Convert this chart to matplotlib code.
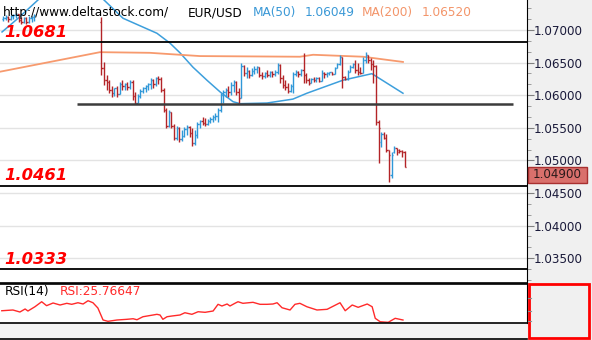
import numpy as np
import matplotlib
matplotlib.use("Agg")
import matplotlib.pyplot as plt
from matplotlib.transforms import blended_transform_factory
from matplotlib.lines import Line2D
from matplotlib.patches import Rectangle
from matplotlib.ticker import MultipleLocator, FormatStrFormatter

# --- bars visible at the far left (before price left the window) ---
early_open = [1.0717, 1.0718, 1.0720, 1.0717, 1.0721, 1.0723, 1.0725, 1.0715, 1.0712, 1.0718, 1.0712, 1.0718, 1.0720]
early_high = [1.0721, 1.0723, 1.0721, 1.0723, 1.0725, 1.0726, 1.0725, 1.0720, 1.0720, 1.0720, 1.0721, 1.0721, 1.0725]
early_low = [1.0714, 1.0715, 1.0712, 1.0715, 1.0717, 1.0718, 1.0712, 1.0709, 1.0711, 1.0709, 1.0711, 1.0712, 1.0714]
early_close = [1.0718, 1.0720, 1.0717, 1.0721, 1.0723, 1.0725, 1.0715, 1.0712, 1.0718, 1.0712, 1.0718, 1.0720, 1.0723]
early_start = -38

# --- main run of bars ---
opens = [1.0712, 1.0642, 1.0623, 1.0620, 1.0608, 1.0603, 1.0611, 1.0602, 1.0617, 1.0614,
         1.0617, 1.0613, 1.0620, 1.0599, 1.0588, 1.0599, 1.0606, 1.0611, 1.0614, 1.0617,
         1.0623, 1.0617, 1.0626, 1.0625, 1.0608, 1.0577, 1.0553, 1.0574, 1.0553, 1.0534,
         1.0550, 1.0533, 1.0537, 1.0548, 1.0551, 1.0542, 1.0527, 1.0539, 1.0556, 1.0560,
         1.0557, 1.0556, 1.0560, 1.0564, 1.0567, 1.0568, 1.0577, 1.0600, 1.0605, 1.0608,
         1.0605, 1.0616, 1.0620, 1.0605, 1.0596, 1.0645, 1.0634, 1.0637, 1.0631, 1.0637,
         1.0640, 1.0643, 1.0631, 1.0629, 1.0634, 1.0631, 1.0636, 1.0633, 1.0636, 1.0646,
         1.0626, 1.0616, 1.0613, 1.0606, 1.0614, 1.0633, 1.0636, 1.0633, 1.0639, 1.0631,
         1.0623, 1.0619, 1.0625, 1.0623, 1.0626, 1.0622, 1.0634, 1.0633, 1.0634, 1.0636,
         1.0633, 1.0642, 1.0648, 1.0659, 1.0628, 1.0625, 1.0636, 1.0643, 1.0648, 1.0639,
         1.0636, 1.0634, 1.0654, 1.0662, 1.0654, 1.0648, 1.0645, 1.0559, 1.0528, 1.0541,
         1.0534, 1.0516, 1.0478, 1.0513, 1.0519, 1.0516, 1.0514, 1.0513]
highs = [1.0720, 1.0651, 1.0631, 1.0623, 1.0614, 1.0611, 1.0614, 1.0620, 1.0623, 1.0619,
         1.0620, 1.0623, 1.0623, 1.0605, 1.0602, 1.0610, 1.0613, 1.0616, 1.0619, 1.0626,
         1.0625, 1.0628, 1.0629, 1.0628, 1.0611, 1.0580, 1.0577, 1.0574, 1.0556, 1.0553,
         1.0551, 1.0547, 1.0551, 1.0554, 1.0553, 1.0550, 1.0547, 1.0559, 1.0562, 1.0567,
         1.0565, 1.0563, 1.0567, 1.0570, 1.0573, 1.0580, 1.0603, 1.0608, 1.0611, 1.0614,
         1.0620, 1.0623, 1.0622, 1.0611, 1.0649, 1.0646, 1.0643, 1.0639, 1.0642, 1.0645,
         1.0645, 1.0643, 1.0636, 1.0636, 1.0639, 1.0637, 1.0637, 1.0639, 1.0649, 1.0648,
         1.0631, 1.0623, 1.0619, 1.0617, 1.0636, 1.0639, 1.0637, 1.0640, 1.0665, 1.0634,
         1.0626, 1.0626, 1.0628, 1.0628, 1.0628, 1.0639, 1.0636, 1.0636, 1.0636, 1.0636,
         1.0643, 1.0649, 1.0662, 1.0659, 1.0629, 1.0639, 1.0646, 1.0649, 1.0654, 1.0649,
         1.0643, 1.0659, 1.0666, 1.0662, 1.0657, 1.0654, 1.0646, 1.0562, 1.0544, 1.0544,
         1.0540, 1.0516, 1.0513, 1.0522, 1.0519, 1.0517, 1.0516, 1.0514]
lows = [1.0631, 1.0616, 1.0608, 1.0603, 1.0597, 1.0599, 1.0597, 1.0602, 1.0608, 1.0608,
        1.0608, 1.0610, 1.0593, 1.0587, 1.0588, 1.0596, 1.0603, 1.0605, 1.0608, 1.0609,
        1.0611, 1.0614, 1.0617, 1.0605, 1.0574, 1.0550, 1.0551, 1.0550, 1.0531, 1.0531,
        1.0528, 1.0530, 1.0536, 1.0539, 1.0536, 1.0522, 1.0524, 1.0534, 1.0550, 1.0554,
        1.0553, 1.0554, 1.0557, 1.0559, 1.0562, 1.0559, 1.0574, 1.0588, 1.0597, 1.0597,
        1.0600, 1.0605, 1.0600, 1.0588, 1.0596, 1.0629, 1.0626, 1.0626, 1.0629, 1.0633,
        1.0634, 1.0628, 1.0625, 1.0626, 1.0628, 1.0628, 1.0628, 1.0629, 1.0633, 1.0619,
        1.0611, 1.0608, 1.0603, 1.0605, 1.0603, 1.0629, 1.0628, 1.0629, 1.0619, 1.0619,
        1.0616, 1.0619, 1.0620, 1.0620, 1.0620, 1.0622, 1.0626, 1.0628, 1.0631, 1.0631,
        1.0633, 1.0642, 1.0646, 1.0611, 1.0623, 1.0623, 1.0636, 1.0642, 1.0634, 1.0631,
        1.0633, 1.0634, 1.0649, 1.0649, 1.0639, 1.0619, 1.0554, 1.0496, 1.0521, 1.0533,
        1.0513, 1.0467, 1.0473, 1.0511, 1.0508, 1.0511, 1.0505, 1.0490]
closes = [1.0642, 1.0623, 1.0620, 1.0608, 1.0603, 1.0611, 1.0602, 1.0617, 1.0614, 1.0617,
          1.0613, 1.0620, 1.0599, 1.0588, 1.0599, 1.0606, 1.0611, 1.0614, 1.0617, 1.0623,
          1.0617, 1.0626, 1.0625, 1.0608, 1.0577, 1.0553, 1.0574, 1.0553, 1.0534, 1.0550,
          1.0533, 1.0537, 1.0548, 1.0551, 1.0542, 1.0527, 1.0539, 1.0556, 1.0560, 1.0557,
          1.0556, 1.0560, 1.0564, 1.0567, 1.0568, 1.0577, 1.0600, 1.0605, 1.0608, 1.0605,
          1.0616, 1.0620, 1.0605, 1.0596, 1.0645, 1.0634, 1.0637, 1.0631, 1.0637, 1.0640,
          1.0643, 1.0631, 1.0629, 1.0634, 1.0631, 1.0636, 1.0633, 1.0636, 1.0646, 1.0626,
          1.0616, 1.0613, 1.0606, 1.0614, 1.0633, 1.0636, 1.0633, 1.0639, 1.0631, 1.0623,
          1.0619, 1.0625, 1.0623, 1.0626, 1.0622, 1.0634, 1.0633, 1.0634, 1.0636, 1.0633,
          1.0642, 1.0648, 1.0659, 1.0628, 1.0625, 1.0636, 1.0643, 1.0648, 1.0639, 1.0636,
          1.0634, 1.0654, 1.0662, 1.0654, 1.0648, 1.0645, 1.0559, 1.0550, 1.0541, 1.0534,
          1.0516, 1.0508, 1.0508, 1.0519, 1.0513, 1.0514, 1.0513, 1.0490]

# moving averages (bar index, price)
ma50_x = [-38.4, -32.2, -21.8, -0.6, 8.3, 21.4, 26.4, 30.3, 35.3, 40.7, 45.8, 50.8, 53.5, 63.9, 73.9, 79.3, 93.2, 104.4, 116.4]
ma50_y = [1.0697, 1.0718, 1.0756, 1.0752, 1.0718, 1.0695, 1.0680, 1.0665, 1.0643, 1.0623, 1.0605, 1.0590, 1.0587, 1.0588, 1.0594, 1.0603, 1.0623, 1.0633, 1.0603]
ma200_x = [-39.2, -19.9, -0.6, 18.7, 38.0, 76.6, 81.7, 101.0, 116.4]
ma200_y = [1.0636, 1.0651, 1.0666, 1.0665, 1.0660, 1.0659, 1.0662, 1.0659, 1.0651]

# RSI(14)
rsi_x = [-38.5, -34.2, -31.5, -29.5, -28.4, -25.7, -23.1, -21.2, -18.7, -16.0, -13.4, -11.5, -9.1, -7.1,
         -5.2, -3.3, -1.4, 0.6, 2.5, 6.0, 9.8, 12.2, 13.7, 16.0, 19.9, 21.4, 22.6, 23.7, 25.3, 27.2,
         30.3, 32.2, 34.9, 37.3, 40.0, 43.1, 45.0, 46.5, 48.5, 49.6, 51.5, 52.7, 54.6, 58.5, 61.2,
         63.9, 66.2, 67.8, 69.7, 72.8, 74.7, 76.6, 79.3, 83.2, 87.1, 92.1, 94.1, 96.8, 99.1, 102.6,
         104.5, 105.7, 107.6, 110.7, 113.4, 116.4]
rsi_y = [43.4, 44.8, 41.0, 46.7, 42.9, 51.0, 60.5, 53.0, 58.1, 54.3, 57.5, 55.6, 58.6, 56.2,
         62.4, 58.6, 48.6, 25.8, 23.3, 25.8, 27.1, 28.2, 26.3, 32.0, 35.3, 36.6, 35.3, 27.1, 32.0, 33.4,
         35.3, 39.6, 36.6, 41.5, 40.4, 42.9, 55.6, 52.4, 56.2, 52.4, 57.5, 60.5, 57.5, 59.4, 55.6,
         55.6, 56.2, 58.6, 49.1, 44.8, 55.6, 57.5, 51.0, 44.8, 46.1, 58.6, 43.4, 54.3, 49.9, 56.2,
         51.0, 29.0, 22.5, 21.4, 29.0, 25.8]

levels = [1.0681, 1.0461, 1.0333]
support_level = 1.0586
support_span = [-9.5, 159.0]

BLUE = "#2f98d8"
RED = "#b32428"
GRAY_BG = "#f0f0f0"

W, H = 592, 340
fig = plt.figure(figsize=(W / 100, H / 100), dpi=100)
fig.patch.set_facecolor("white")

# grey strips: right price scale and bottom
fig.add_artist(Rectangle((527 / W, 0), 1, 1, transform=fig.transFigure, fc=GRAY_BG, ec="none", zorder=0))
fig.add_artist(Rectangle((0, 0), 527 / W, 17 / H, transform=fig.transFigure, fc="#f3f3f3", ec="none", zorder=0))
fig.add_artist(Line2D([0, 527 / W], [1 / H, 1 / H], transform=fig.transFigure, color="black", lw=1.2))

ax = fig.add_axes([0, 57 / H, 527 / W, 283 / H])
ax.set_xlim(-39.19, 164.29)
ax.set_ylim(1.031196, 1.074601)
for s in ["top", "left"]:
    ax.spines[s].set_visible(False)
ax.spines["right"].set_color("black")
ax.spines["bottom"].set_color("black")
ax.spines["bottom"].set_linewidth(1.2)
ax.set_xticks([])
ax.yaxis.tick_right()
ax.yaxis.set_major_locator(MultipleLocator(0.005))
ax.yaxis.set_minor_locator(MultipleLocator(0.005 / 3))
ax.yaxis.set_major_formatter(FormatStrFormatter("%.5f"))
ax.tick_params(axis="y", which="major", direction="out", length=5, color="#808080",
               labelsize=8.6, labelcolor="#1a1a3a", pad=0)
ax.tick_params(axis="y", which="minor", direction="out", length=3, color="#909090")
ax.grid(axis="y", which="major", color="#e3e3e3", lw=1)
ax.set_axisbelow(True)

# bars
x = np.concatenate([np.arange(early_start, early_start + len(early_open)), np.arange(len(opens))])
o = np.array(early_open + opens)
hi = np.array(early_high + highs)
lo = np.array(early_low + lows)
c = np.array(early_close + closes)
col = np.where(c >= o, BLUE, RED)
ax.vlines(x, lo, hi, colors=col, lw=1.0, zorder=3)
ax.hlines(o, x - 0.5, x, colors=col, lw=1.0, zorder=3)
ax.hlines(c, x, x + 0.5, colors=col, lw=1.0, zorder=3)

ax.plot(ma50_x, ma50_y, color="#3d9fdc", lw=1.1, zorder=2)
ax.plot(ma200_x, ma200_y, color="#f79a6e", lw=1.3, zorder=2)

# levels
bl = blended_transform_factory(ax.transAxes, ax.transData)
for lv in levels:
    ax.axhline(lv, color="black", lw=1.3, zorder=4)
    ax.annotate(f"{lv:.4f}", xy=(0.009, lv), xycoords=bl, xytext=(0, 2), textcoords="offset points",
                va="bottom", ha="left", color="#ff0000", fontsize=11.8, fontweight="bold",
                fontstyle="italic", zorder=5)
ax.hlines(support_level, support_span[0], support_span[1], color="#3c3c3c", lw=1.8, zorder=4)

# last price box
last = closes[-1]
box_h = 16 / 283 * (ax.get_ylim()[1] - ax.get_ylim()[0])
ax.add_patch(Rectangle((1.002, last - box_h), 59 / 527, box_h, transform=bl, fc="#d9706c",
                       ec="#a83030", lw=1, clip_on=False, zorder=6))
ax.text(1.002 + 29.5 / 527, last - box_h / 2, f"{last:.5f}", transform=bl, va="center", ha="center",
        fontsize=8.6, color="#2a1a1a", clip_on=False, zorder=7)

# header texts
ty = 1 - 16 / H
fig.text(3 / W, ty, "http://www.deltastock.com/", fontsize=8.7, color="black", va="baseline")
fig.text(188 / W, ty, "EUR/USD", fontsize=8.7, color="black", va="baseline")
fig.text(253 / W, ty, "MA(50)", fontsize=8.7, color="#3a98d6", va="baseline")
fig.text(305 / W, ty, "1.06049", fontsize=8.7, color="#3a98d6", va="baseline")
fig.text(362 / W, ty, "MA(200)", fontsize=8.7, color="#f3956a", va="baseline")
fig.text(422 / W, ty, "1.06520", fontsize=8.7, color="#f3956a", va="baseline")

# RSI panel
rx = fig.add_axes([0, 17 / H, 527 / W, 39 / H])
rx.set_xlim(-39.19, 164.29)
rx.set_ylim(20.1, 94.2)
rx.set_xticks([])
rx.set_yticks([])
rx.spines["left"].set_visible(False)
rx.spines["right"].set_color("black")
for s in ["top", "bottom"]:
    rx.spines[s].set_color("black")
    rx.spines[s].set_linewidth(1.2)
rx.plot(rsi_x, rsi_y, color="#ff2a2a", lw=1.0)
rx.text(5 / 527, 0.8, "RSI(14)", transform=rx.transAxes, fontsize=8.7, color="black", va="center")
rx.text(60 / 527, 0.8, "RSI:25.76647", transform=rx.transAxes, fontsize=8.7, color="#ff2a2a", va="center")

# red frame at the right of the RSI panel
fig.add_artist(Rectangle((529 / W, 2 / H), 60 / W, 54 / H, transform=fig.transFigure,
                         fc="none", ec="#ff0000", lw=2))
for py in [298, 311, 321]:
    fig.add_artist(Line2D([528 / W, 531 / W], [1 - py / H, 1 - py / H], transform=fig.transFigure,
                          color="#909090", lw=0.8))

fig.savefig("out.png", dpi=100)
